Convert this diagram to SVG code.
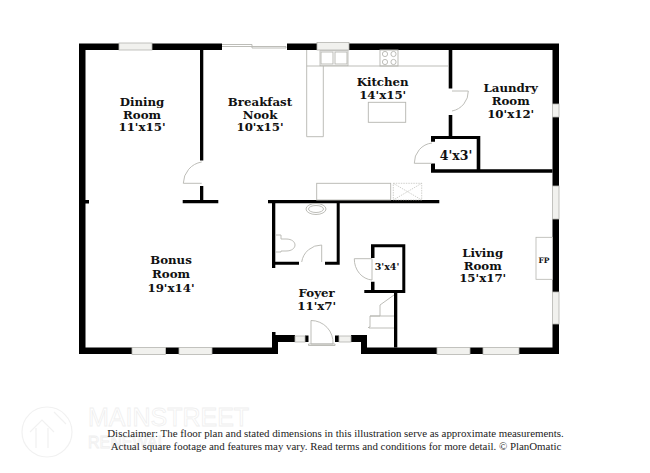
<svg xmlns="http://www.w3.org/2000/svg" width="650" height="473" viewBox="0 0 650 473">
<style>
.w{fill:#000}
.win{fill:#f1f1ee;stroke:#b5b5b0;stroke-width:.8}
.f{fill:#fff;stroke:#b5b5b0;stroke-width:.8}
.l{fill:none;stroke:#b5b5b0;stroke-width:.9}
.d{fill:none;stroke:#bdbdb8;stroke-width:.7;stroke-dasharray:1.5 1}
.t{font-family:"DejaVu Serif",serif;font-weight:700;font-size:11.800px;text-anchor:middle;fill:#111}
.s{font-family:"Liberation Serif",serif;font-size:10.900px;text-anchor:middle;fill:#222}
.m{font-family:"Liberation Sans",sans-serif;fill:none;stroke:#efefef;stroke-width:.8}
</style>
<rect width="650" height="473" fill="#fff"/>
<g id="watermark">
<circle cx="47" cy="432" r="25" fill="none" stroke="#f1f1f1" stroke-width="1.2"/>
<path d="M30 432L42 420L54 432M36 428V448M48 428V448M54 412L66 424" fill="none" stroke="#f1f1f1" stroke-width="1.2"/>
<text class="m" x="88" y="426" font-size="25">MAINSTREET</text>
<text class="m" x="88" y="448" font-size="16">RENEWAL</text>
</g>
<g id="walls">
<path class="w" d="M79 43.500H119V50H85.500V347.500H132V354H79ZM152 43.500H222V50H152ZM287 43.500H317V50H287ZM349 43.500H559V104H552.500V50H349ZM552.500 117H559V186H552.500ZM552.500 219H559V292H552.500ZM552.500 324H559V354H519V347.500H552.500ZM165.500 347.500H179V354H165.500ZM212 347.500H272V332H275.500V335H295V342H278V354H212ZM305 335.500H308.500V342H305ZM335 335.500H339V342H335ZM351 335H367V347.500H437V354H361V342H351ZM470 347.500H483V354H470Z"/>
<path class="w" d="M200 50H203.300V160.500H200ZM200 186H203.300V200H218.300V203.300H182.700V200H200ZM85 200H89V203.500H85ZM268 200H439.300V203.300H339.700V264.700H325V261.700H336.700V203.300H275.300V261.700H299V264.700H275.300V268H272V203.300H268Z"/>
<path class="w" d="M448.700 50H452.300V88.500H448.700ZM448.700 115H452.300V136H480.300V169.300H552.500V172.700H431V163.500H435V169.300H476.700V139H435V141.700H431V136H448.700Z"/>
<path class="w" d="M371 244.300H405.300V293H397.300V347.500H394V293H364.300V290H371V281.700H374.500V290H402.300V247.300H374.500V258H371Z"/>
</g>
<g id="windows">
<rect class="win" x="119" y="43" width="33" height="7"/><rect class="win" x="317" y="42.500" width="32" height="7.500"/>
<rect class="win" x="552.500" y="104" width="6.500" height="13"/><rect class="win" x="552.500" y="186" width="6.500" height="33"/><rect class="win" x="552.500" y="292" width="6.500" height="32"/>
<rect class="win" x="132" y="347.500" width="33.500" height="7"/><rect class="win" x="179" y="347.500" width="33" height="7"/>
<rect class="win" x="437" y="347.500" width="33" height="7"/><rect class="win" x="483" y="347.500" width="36" height="7"/>
<rect class="win" x="295" y="336" width="10" height="6"/><rect class="win" x="339" y="336" width="12" height="6"/>
<path class="l" d="M222 44.500H252V46.500H286M252 46.500V48H286V46.500M222 46.500H252"/>
</g>
<g id="fixtures">
<path class="l" d="M306.700 50V136.700H323.300V66H448M323.300 66H306.700"/>
<rect class="f" x="320" y="50.700" width="28" height="15"/><rect class="l" x="321" y="52" width="12" height="12"/><rect class="l" x="335" y="52" width="12" height="12"/>
<rect class="l" x="380" y="50" width="18" height="16"/><circle class="l" cx="385" cy="54" r="2.600"/><circle class="l" cx="393.500" cy="54" r="2.600"/><circle class="l" cx="385" cy="62" r="2.600"/><circle class="l" cx="393.500" cy="62" r="2.600"/>
<rect class="l" x="368.300" y="102.300" width="37.400" height="20"/>
<rect class="l" x="316.700" y="183.300" width="74" height="16.700"/>
<path class="d" d="M393.300 183.300H421.700V200H393.300ZM393.300 183.300L421.700 200M421.700 183.300L393.300 200"/>
<ellipse class="l" cx="316" cy="209" rx="10" ry="5.500"/><ellipse class="l" cx="316" cy="209" rx="7.500" ry="3.500"/>
<path class="l" d="M275.500 235H281V239H286C298 239 298 251 286 251H281V252H275.500"/>
<rect class="f" x="536" y="237.300" width="16.500" height="42"/>
<path class="l" d="M394 295L380 305V316H370V327H369V328H394M370 316H394M369 328L368 327"/>
</g>
<g id="doors">
<path class="l" d="M201.700 162A22 22 0 0 0 183.300 183.300H201.700"/>
<path class="l" d="M452 91H468.300A20 20 0 0 1 452 111"/>
<path class="l" d="M432 143A20 20 0 0 0 414.300 163.300H432"/>
<path class="l" d="M321.700 245A20 20 0 0 0 301.700 262M321.700 245V262"/>
<path class="l" d="M354.300 258.700H372V280A19 21 0 0 1 354.300 258.700"/>
<path class="l" d="M311 320.500V344M311 320.500A22 22 0 0 1 333 344H311M308.500 344H335V345.500H308.500Z"/>
</g>
<g id="labels">
<text class="t"><tspan x="142" y="106">Dining</tspan><tspan x="142" y="118.700">Room</tspan><tspan x="142" y="131">11'x15'</tspan></text>
<text class="t"><tspan x="260" y="106">Breakfast</tspan><tspan x="260" y="118.700">Nook</tspan><tspan x="260" y="131">10'x15'</tspan></text>
<text class="t"><tspan x="382.700" y="86">Kitchen</tspan><tspan x="382.700" y="99">14'x15'</tspan></text>
<text class="t"><tspan x="510.700" y="92">Laundry</tspan><tspan x="510.700" y="105">Room</tspan><tspan x="510.700" y="118">10'x12'</tspan></text>
<text class="t" x="456" y="160" style="font-size:12.500px">4'x3'</text>
<text class="t"><tspan x="171" y="264">Bonus</tspan><tspan x="171" y="278">Room</tspan><tspan x="171" y="291.500">19'x14'</tspan></text>
<text class="t"><tspan x="316.700" y="297">Foyer</tspan><tspan x="316.700" y="310">11'x7'</tspan></text>
<text class="t" x="387" y="270" style="font-size:9.500px">3'x4'</text>
<text class="t"><tspan x="482.700" y="256.700">Living</tspan><tspan x="482.700" y="269.500">Room</tspan><tspan x="482.700" y="282">15'x17'</tspan></text>
<text class="t" x="544" y="263" style="font-size:7.500px">FP</text>
</g>
<g id="disclaimer">
<text class="s"><tspan x="335.500" y="437">Disclaimer: The floor plan and stated dimensions in this illustration serve as approximate measurements.</tspan><tspan x="336" y="450">Actual square footage and features may vary. Read terms and conditions for more detail. © PlanOmatic</tspan></text>
</g>
</svg>
